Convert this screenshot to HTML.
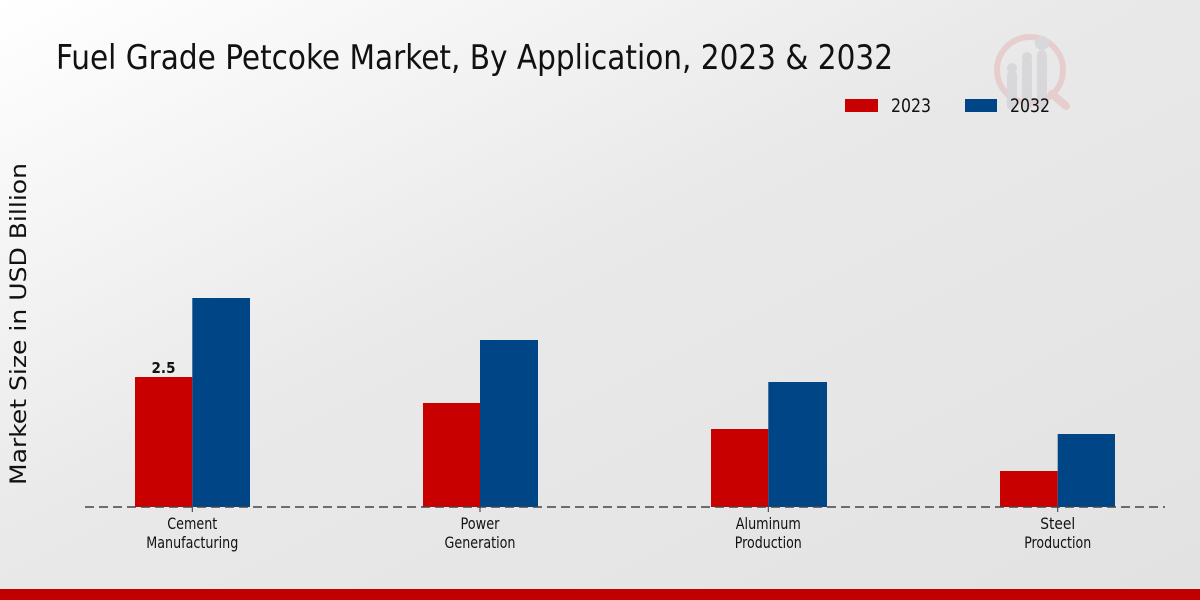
<!DOCTYPE html>
<html><head><meta charset="utf-8"><style>
html,body{margin:0;padding:0;width:1200px;height:600px;overflow:hidden}
svg{display:block}
text{font-family:"DejaVu Sans Condensed","DejaVu Sans","Liberation Sans",sans-serif}
</style></head><body>
<svg width="1200" height="600" viewBox="0 0 1200 600" xmlns="http://www.w3.org/2000/svg">
<defs>
<linearGradient id="bg" x1="0" y1="0" x2="1" y2="1">
<stop offset="0" stop-color="#ffffff"/>
<stop offset="0.45" stop-color="#e9e9e9"/>
<stop offset="1" stop-color="#e2e2e2"/>
</linearGradient>
</defs>
<rect width="1200" height="600" fill="url(#bg)"/>
<!-- watermark -->
<g opacity="0.5">
<circle cx="1030" cy="70" r="33" fill="none" stroke="#e6b5b5" stroke-width="6"/>
<line x1="1052" y1="94" x2="1066" y2="106" stroke="#e6b5b5" stroke-width="8" stroke-linecap="round"/>
<rect x="1007" y="70" width="10" height="40" rx="5" fill="#c8c8cc"/>
<rect x="1022" y="57" width="10" height="53" rx="5" fill="#c8c8cc"/>
<rect x="1037" y="50" width="10" height="60" rx="5" fill="#c8c8cc"/>
<circle cx="1012" cy="68" r="5" fill="#c8c8cc"/>
<circle cx="1027" cy="57" r="5" fill="#c8c8cc"/>
<circle cx="1042" cy="43" r="7" fill="#c8c8cc"/>
</g>
<!-- title -->
<text x="56" y="69" font-size="34" fill="#111" textLength="837" lengthAdjust="spacingAndGlyphs">Fuel Grade Petcoke Market, By Application, 2023 &amp; 2032</text>
<!-- legend -->
<rect x="845" y="99" width="33" height="13" fill="#c80000"/>
<text x="891" y="112" font-size="19" fill="#111" textLength="40" lengthAdjust="spacingAndGlyphs">2023</text>
<rect x="965" y="99" width="32" height="13" fill="#004585"/>
<text x="1010" y="112" font-size="19" fill="#111" textLength="40" lengthAdjust="spacingAndGlyphs">2032</text>
<!-- y axis label -->
<text transform="translate(26,324) rotate(-90)" text-anchor="middle" font-size="22" fill="#111" font-family="DejaVu Sans, sans-serif" textLength="322" lengthAdjust="spacingAndGlyphs">Market Size in USD Billion</text>
<!-- bars -->
<rect x="135" y="377" width="57.3" height="130" fill="#c80000"/>
<rect x="192.3" y="298" width="57.7" height="209" fill="#004585"/>
<rect x="423" y="403" width="57" height="104" fill="#c80000"/>
<rect x="480" y="340" width="58" height="167" fill="#004585"/>
<rect x="711" y="429" width="57.3" height="78" fill="#c80000"/>
<rect x="768.3" y="382" width="58.7" height="125" fill="#004585"/>
<rect x="1000" y="471" width="57.7" height="36" fill="#c80000"/>
<rect x="1057.7" y="434" width="57.3" height="73" fill="#004585"/>
<!-- value label -->
<text x="163.5" y="373" text-anchor="middle" font-size="15" font-weight="bold" fill="#111" font-family="DejaVu Sans, sans-serif">2.5</text>
<!-- baseline -->
<line x1="85" y1="507" x2="1165" y2="507" stroke="#444" stroke-width="1.5" stroke-dasharray="9,5"/>
<g stroke="#333" stroke-width="1">
<line x1="192.3" y1="507" x2="192.3" y2="512"/>
<line x1="480" y1="507" x2="480" y2="512"/>
<line x1="768.3" y1="507" x2="768.3" y2="512"/>
<line x1="1057.7" y1="507" x2="1057.7" y2="512"/>
</g>
<!-- tick labels -->
<g font-size="16" fill="#111" text-anchor="middle">
<text x="192.3" y="529" textLength="50" lengthAdjust="spacingAndGlyphs">Cement</text>
<text x="192.3" y="548" textLength="92" lengthAdjust="spacingAndGlyphs">Manufacturing</text>
<text x="480" y="529" textLength="39" lengthAdjust="spacingAndGlyphs">Power</text>
<text x="480" y="548" textLength="71" lengthAdjust="spacingAndGlyphs">Generation</text>
<text x="768.3" y="529" textLength="65" lengthAdjust="spacingAndGlyphs">Aluminum</text>
<text x="768.3" y="548" textLength="67" lengthAdjust="spacingAndGlyphs">Production</text>
<text x="1057.7" y="529" textLength="35" lengthAdjust="spacingAndGlyphs">Steel</text>
<text x="1057.7" y="548" textLength="67" lengthAdjust="spacingAndGlyphs">Production</text>
</g>
<!-- bottom strip -->
<rect x="0" y="589" width="1200" height="11" fill="#c00000"/>
</svg>
</body></html>
